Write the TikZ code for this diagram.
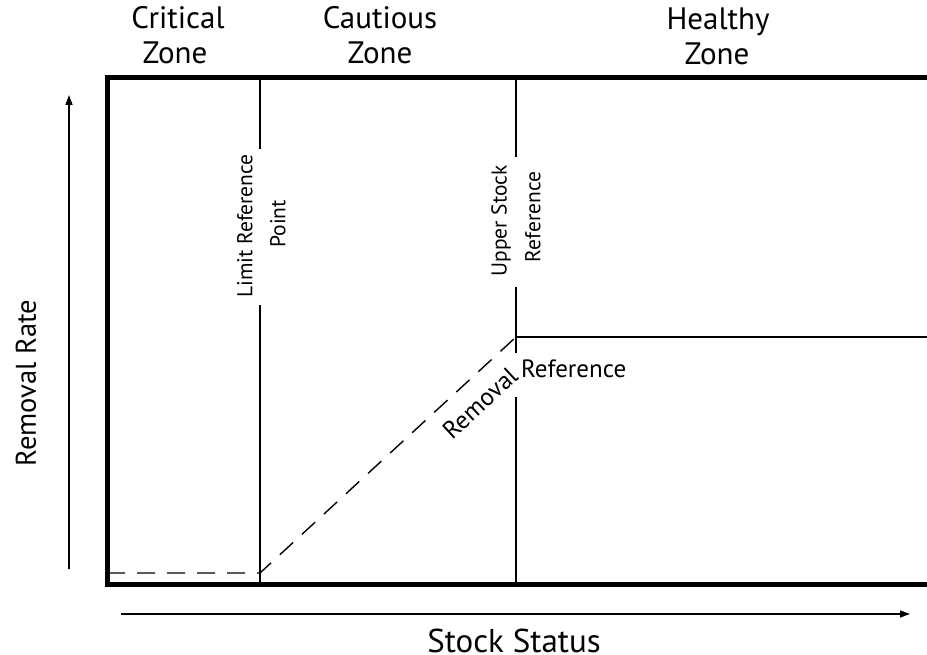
\documentclass[tikz,border=0pt]{standalone}
\usepackage{fontspec}
\setmainfont{PT Sans}
\usetikzlibrary{arrows.meta}
\tikzset{
  frame/.style={line width=5pt},
  refline/.style={line width=1.4pt},
  dashline/.style={line width=1.4pt, dash pattern=on 18pt off 12pt},
  axis/.style={line width=1.4pt, -{Triangle[length=10pt,width=7pt]}},
  zone/.style={font=\fontsize{31}{35}\selectfont, inner sep=0pt, anchor=base},
  inlabel/.style={font=\fontsize{21.5}{24}\selectfont, inner sep=0pt},
  biglabel/.style={font=\fontsize{25}{28}\selectfont, inner sep=0pt},
  axlabel/.style={font=\fontsize{28.5}{30}\selectfont, inner sep=0pt}
}
\begin{document}
\begin{tikzpicture}[x=1pt,y=-1pt]
\useasboundingbox (0,0) rectangle (927,655);
% frame
\draw[frame] (945,78) -- (107,78) -- (107,584) -- (945,584);
% limit reference line
\coordinate (l0) at (260,78);
\coordinate (l1) at (260,149);
\coordinate (l2) at (260,305);
\coordinate (l3) at (260,584);
\draw[refline] (l0) -- (l1);
\draw[refline] (l2) -- (l3);
\node[inlabel, rotate=90] (lrp1) at (245,226) {Limit Reference};
\node[inlabel, rotate=90] (lrp2) at (278,224) {Point};
% upper stock reference line
\coordinate (u0) at (516,78);
\coordinate (u1) at (516,157);
\coordinate (u2) at (516,287);
\coordinate (u3) at (516,353);
\coordinate (u4) at (516,397);
\coordinate (u5) at (516,584);
\draw[refline] (u0) -- (u1);
\draw[refline] (u2) -- (u3);
\draw[refline] (u4) -- (u5);
\node[inlabel, rotate=90] (usr1) at (501,221) {Upper Stock};
\node[inlabel, rotate=90] (usr2) at (533,217) {Reference};
% removal reference
\coordinate (r0) at (107,573);
\coordinate (r1) at (260,573);
\coordinate (r2) at (516,337);
\coordinate (r3) at (945,337);
\draw[refline] (r2) -- (r3);
\draw[dashline] (r0) -- (r1) -- (r2);
\node[biglabel, anchor=base west] (rrt) at (521,377) {Reference};
\node[biglabel, rotate=42.7] (rrm) at (480,403) {Removal};
% axes
\coordinate (ya) at (69,569);
\coordinate (yb) at (69,95);
\coordinate (xa) at (121,614);
\coordinate (xb) at (910,614);
\draw[axis] (ya) -- (yb);
\draw[axis] (xa) -- (xb);
\node[axlabel, rotate=90] (ylab) at (26,383) {Removal Rate};
\node[font=\fontsize{33}{36}\selectfont, inner sep=0pt, anchor=base] (xlab) at (514,652) {Stock Status};
% zones
\node[zone] (z1a) at (178,29) {Critical};
\node[zone] (z1b) at (175,64) {Zone};
\node[zone] (z2a) at (380,29) {Cautious};
\node[zone] (z2b) at (380,64) {Zone};
\node[zone] (z3a) at (718,30) {Healthy};
\node[zone] (z3b) at (717,65) {Zone};
\end{tikzpicture}
\end{document}
